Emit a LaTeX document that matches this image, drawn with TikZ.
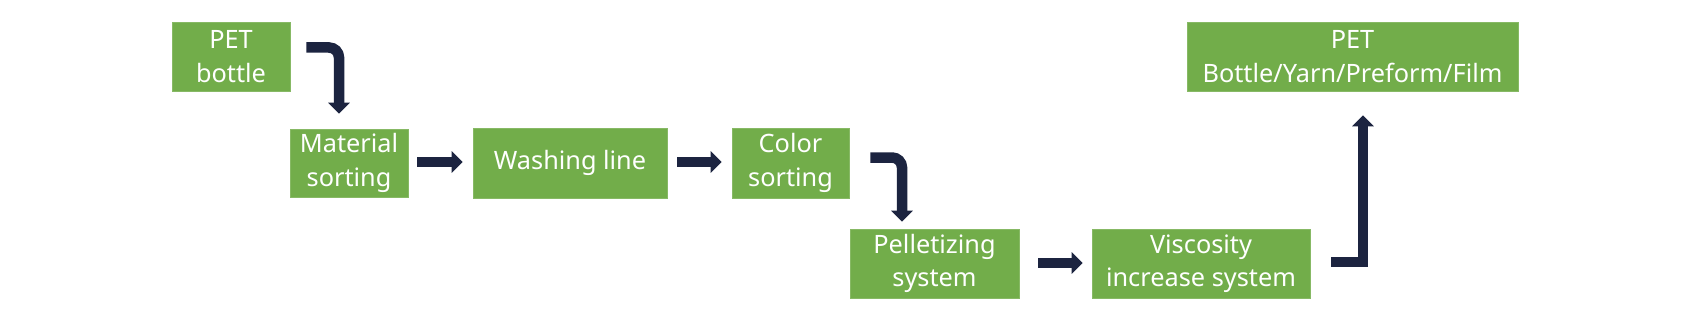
\documentclass[tikz,border=0pt]{standalone}
\usepackage{fontspec}
\setmainfont{Noto Sans}
\usetikzlibrary{arrows.meta,calc}
\definecolor{boxgreen}{HTML}{72AD4A}
\definecolor{arrnavy}{HTML}{1C2440}
\tikzset{
  stepbox/.style={rectangle, fill=boxgreen, draw=boxgreen!85!white, line width=0.6pt,
    text=white, align=center, inner sep=0pt,
    font=\fontsize{25.3}{33.5}\selectfont},
  flowarr/.style={draw=arrnavy, line width=10.5pt,
    -{Triangle[width=21pt,length=11pt]}, arrnavy}
}
\begin{document}
\begin{tikzpicture}[x=1pt,y=-1pt]
\useasboundingbox (0,0) rectangle (1700,321);
\fill[white] (0,0) rectangle (1700,321);
\node[stepbox, minimum width=118pt, minimum height=69pt] (b1) at (231,56.5) {PET\\bottle};
\node[stepbox, minimum width=118pt, minimum height=68pt] (b2) at (349,163) {Material\\sorting};
\node[stepbox, minimum width=194pt, minimum height=70pt] (b3) at (570,163) {Washing line};
\node[stepbox, minimum width=117pt, minimum height=70pt] (b4) at (790.5,163) {Color\\sorting};
\node[stepbox, minimum width=169pt, minimum height=69pt] (b5) at (934.5,263.5) {Pelletizing\\system};
\node[stepbox, minimum width=218pt, minimum height=69pt] (b6) at (1201,263.5) {Viscosity\\increase system};
\node[stepbox, minimum width=331pt, minimum height=69pt] (b7) at (1352.5,56.5) {PET\\Bottle/Yarn/Preform/Film};

\draw[flowarr, rounded corners=10pt] ($(b1.east)+(16,-9)$) -| ($(b2.north)+(-10,-15)$);
\draw[flowarr] ($(b2.east)+(9,-1)$) -- ($(b3.west)+(-10,-1)$);
\draw[flowarr] ($(b3.east)+(10,-1)$) -- ($(b4.west)+(-10,-1)$);
\draw[flowarr, rounded corners=10pt] ($(b4.east)+(21,-5.5)$) -| ($(b5.north)+(-32.5,-7)$);
\draw[flowarr] ($(b5.east)+(19,-0.5)$) -- ($(b6.west)+(-9,-0.5)$);
\draw[flowarr] ($(b6.east)+(21,-1.5)$) -| ($(b7.south)+(10.5,24)$);
\end{tikzpicture}
\end{document}
